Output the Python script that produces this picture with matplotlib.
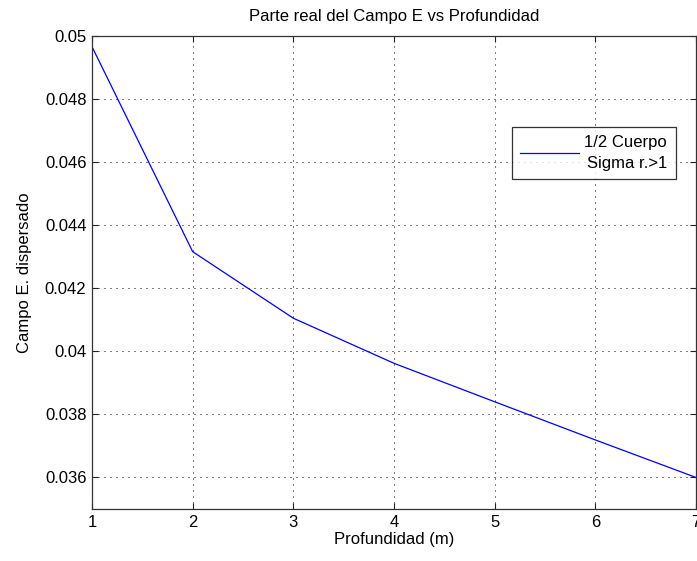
import matplotlib
matplotlib.use("Agg")
import matplotlib.pyplot as plt
from matplotlib.lines import Line2D

depth = [1, 2, 3, 4, 5, 6, 7]
campo_e = [0.04966, 0.04316, 0.04105, 0.03962, 0.0384, 0.03719, 0.0360]
x_ticks = [1, 2, 3, 4, 5, 6, 7]
y_ticks = [0.036, 0.038, 0.040, 0.042, 0.044, 0.046, 0.048, 0.050]
y_tick_labels = ["0.036", "0.038", "0.04", "0.042", "0.044", "0.046", "0.048", "0.05"]
series_label = "1/2 Cuerpo\nSigma r.>1"

plt.rcParams["font.family"] = ["Liberation Sans", "DejaVu Sans"]
FS = 12

fig = plt.figure(figsize=(6.97, 5.61), dpi=100)
ax = fig.add_axes([92 / 697, 1 - 509 / 561, 604 / 697, 473 / 561])

ax.plot(depth, campo_e, color="#0000ff", lw=0.9)

ax.set_xlim(1, 7)
ax.set_ylim(0.035, 0.05)
ax.set_xticks(x_ticks)
ax.set_xticklabels([str(v) for v in x_ticks], fontsize=FS)
ax.set_yticks(y_ticks)
ax.set_yticklabels(y_tick_labels, fontsize=FS)

ax.grid(True, color="black", linestyle=(0, (1, 5)), linewidth=0.72)
ax.tick_params(direction="in", length=4, width=0.8, top=True, right=True,
               colors="#222222", labelcolor="black", pad=4)
for s in ax.spines.values():
    s.set_color("#333333")
    s.set_linewidth(0.9)

ax.set_title("Parte real del Campo E vs Profundidad", fontsize=FS, pad=11)
ax.set_xlabel("Profundidad (m)", fontsize=FS, labelpad=2)
ax.set_ylabel("Campo E. dispersado", fontsize=FS, labelpad=9)

handle = Line2D([], [], color="#0000ff", lw=0.9)
leg = ax.legend([handle], [series_label], loc="upper left",
                bbox_to_anchor=((512 - 92) / 604, (509 - 127) / 473),
                fontsize=FS, frameon=True, fancybox=False, handlelength=3.5,
                borderpad=0.5, handletextpad=0.35, borderaxespad=0)
leg.get_frame().set_edgecolor("black")
leg.get_frame().set_linewidth(0.9)
for t in leg.get_texts():
    t.set_multialignment("right")
    t.set_linespacing(1.45)

fig.savefig("out.png", dpi=100)
